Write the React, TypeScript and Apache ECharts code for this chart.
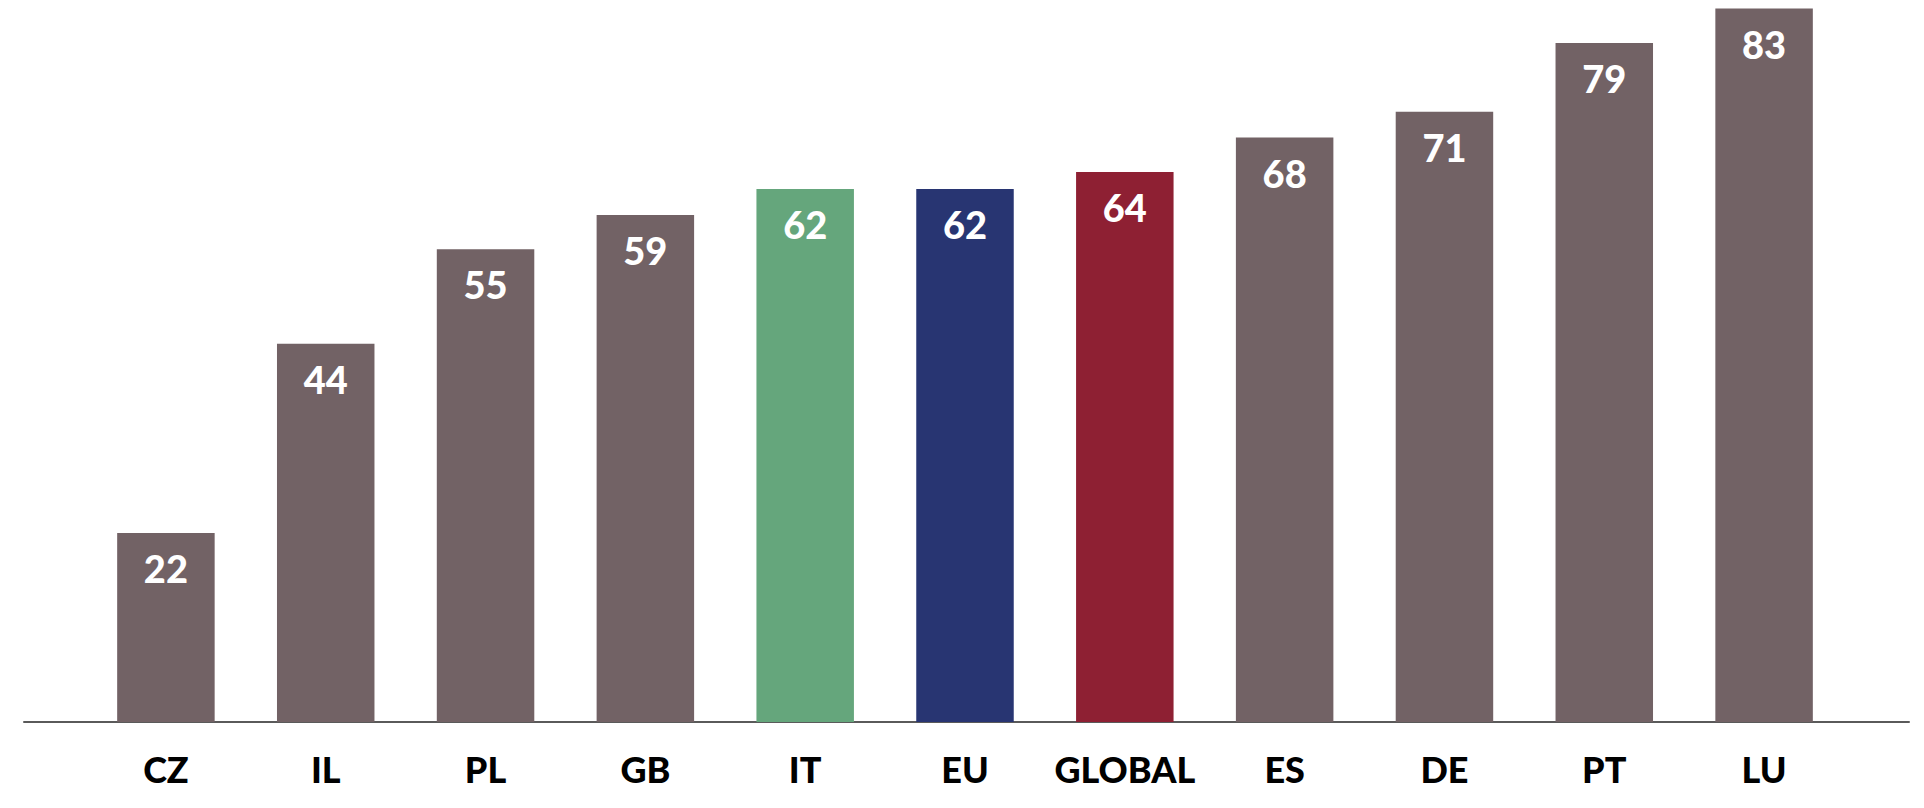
import React, { useEffect, useRef } from "react";
import * as echarts from "echarts";

const categories = ["CZ", "IL", "PL", "GB", "IT", "EU", "GLOBAL", "ES", "DE", "PT", "LU"];
const values = [22, 44, 55, 59, 62, 62, 64, 68, 71, 79, 83];
const barColors = [
  "#726265", "#726265", "#726265", "#726265",
  "#65a67c", "#283572", "#8e2033",
  "#726265", "#726265", "#726265", "#726265",
];

const App = () => {
  const chartRef = useRef<HTMLDivElement>(null);

  useEffect(() => {
    if (!chartRef.current) return;
    const chart = echarts.init(chartRef.current, null, { renderer: "svg" });

    chart.setOption({
      animation: false,
      grid: [
        { left: 86, right: 80, top: 0, bottom: 86 },
        // wider grid only to draw the full-width baseline
        { left: 24, right: 15, top: 0, bottom: 86 },
      ],
      xAxis: [
        {
          type: "category",
          data: categories,
          gridIndex: 0,
          axisLine: { show: false },
          axisTick: { show: false },
          axisLabel: {
            color: "#000",
            fontFamily: "Lato",
            fontWeight: 900,
            fontSize: 36,
            margin: 29,
            interval: 0,
          },
        },
        {
          type: "value",
          gridIndex: 1,
          min: 0,
          max: 1,
          axisLine: { show: true, lineStyle: { color: "#5a5a5a", width: 2 } },
          axisTick: { show: false },
          axisLabel: { show: false },
          splitLine: { show: false },
        },
      ],
      yAxis: [
        { type: "value", gridIndex: 0, min: 0, max: 84, show: false },
        { type: "value", gridIndex: 1, min: 0, max: 1, show: false },
      ],
      series: [
        {
          type: "bar",
          xAxisIndex: 0,
          yAxisIndex: 0,
          barWidth: "61%",
          z: 3,
          data: values.map((v, i) => ({ value: v, itemStyle: { color: barColors[i] } })),
          label: {
            show: true,
            position: "insideTop",
            distance: 16,
            color: "#fff",
            fontFamily: "Lato",
            fontWeight: 900,
            fontSize: 38,
          },
        },
      ],
    });

    return () => chart.dispose();
  }, []);

  return (
    <div
      ref={chartRef}
      style={{ position: "fixed", left: 0, top: 0, width: 1924, height: 808, background: "#fff" }}
    />
  );
};

export default App;
